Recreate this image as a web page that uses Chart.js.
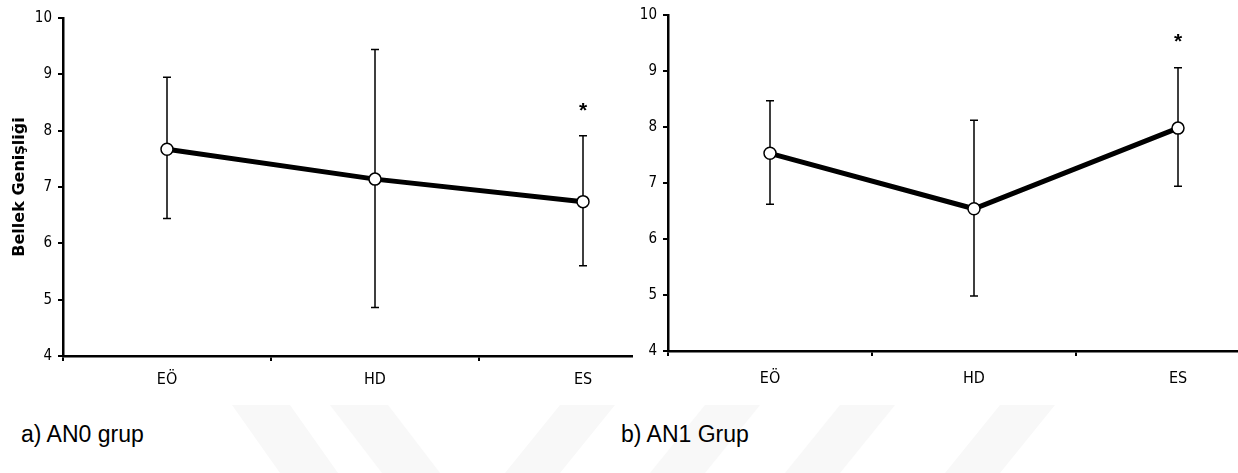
<!DOCTYPE html>
<html>
<head>
<meta charset="utf-8">
<script src="https://cdn.jsdelivr.net/npm/chart.js@4.4.1/dist/chart.umd.min.js"></script>
<style>
  html, body { margin: 0; padding: 0; background: #fff; overflow: hidden; }
  body { width: 1238px; height: 473px; position: relative; }
  canvas { position: absolute; top: 0; background: #fff; }
  #wm { position: absolute; left: 0; top: 0; }
  .cap { position: absolute; font-family: 'Liberation Sans', Arial, sans-serif; font-size: 23px; color: #000; top: 421px; }
</style>
</head>
<body>
<svg id="wm" width="1238" height="473">
  <g fill="#f8f8f8">
    <polygon points="232,405 290,405 338,473 280,473"/>
    <polygon points="330,405 388,405 440,473 382,473"/>
    <polygon points="560,405 615,405 560,473 505,473"/>
    <polygon points="705,405 760,405 705,473 650,473"/>
    <polygon points="840,405 895,405 840,473 785,473"/>
    <polygon points="1000,405 1055,405 1000,473 945,473"/>
  </g>
</svg>
<canvas id="chartA" width="700" height="400" style="left:0"></canvas>
<canvas id="chartB" width="660" height="400" style="left:633px"></canvas>
<div class="cap" style="left:21px">a) AN0 grup</div>
<div class="cap" style="left:621px">b) AN1 Grup</div>
<script>
// categories and values
const categories = ['EÖ', 'HD', 'ES'];

// a) AN0 grup
const an0Mean = [7.67, 7.14, 6.74];
const an0Upper = [8.95, 9.44, 7.91];
const an0Lower = [6.44, 4.86, 5.60];
const an0Marks = ['', '', '*'];

// b) AN1 Grup
const an1Mean = [7.53, 6.54, 7.98];
const an1Upper = [8.47, 8.12, 9.06];
const an1Lower = [6.62, 4.98, 6.94];
const an1Marks = ['', '', '*'];

const yMin = 4;
const yMax = 10;
const yTitle = 'Bellek Genişliği';

const tickFont = "'DejaVu Sans Condensed', 'DejaVu Sans', sans-serif";

// draws whiskers behind the line, and the significance marks above them
const errorBars = {
    id: 'errorBars',
    beforeDatasetsDraw(chart, args, opts) {
        const ctx = chart.ctx;
        const x = chart.scales.x;
        const y = chart.scales.y;
        ctx.save();
        ctx.strokeStyle = '#000';
        ctx.lineWidth = 1.5;
        opts.upper.forEach((hi, i) => {
            const px = x.getPixelForValue(i);
            const top = y.getPixelForValue(hi);
            const bot = y.getPixelForValue(opts.lower[i]);
            ctx.beginPath();
            ctx.moveTo(px, top);
            ctx.lineTo(px, bot);
            ctx.moveTo(px - 4, top);
            ctx.lineTo(px + 4, top);
            ctx.moveTo(px - 4, bot);
            ctx.lineTo(px + 4, bot);
            ctx.stroke();
            if (opts.marks[i]) {
                ctx.fillStyle = '#000';
                ctx.font = "bold 21px 'Liberation Sans', Arial, sans-serif";
                ctx.textAlign = 'center';
                ctx.textBaseline = 'middle';
                ctx.fillText(opts.marks[i], px, top - 25);
            }
        });
        ctx.restore();
    }
};

function makeChart(id, mean, upper, lower, marks, box) {
    return new Chart(document.getElementById(id), {
        type: 'line',
        data: {
            labels: categories,
            datasets: [{
                data: mean,
                borderColor: '#000',
                borderWidth: 5,
                pointRadius: 6,
                pointBorderWidth: 1.5,
                pointBackgroundColor: '#fff',
                pointBorderColor: '#000',
                tension: 0
            }]
        },
        options: {
            responsive: false,
            animation: false,
            layout: { padding: { top: box.top, right: box.right, left: 0, bottom: 0 } },
            plugins: {
                legend: { display: false },
                tooltip: { enabled: false },
                errorBars: { upper: upper, lower: lower, marks: marks }
            },
            scales: {
                x: {
                    offset: true,
                    grid: { display: true, drawOnChartArea: false, drawTicks: true, tickLength: 5, color: '#000', lineWidth: 2, offset: true },
                    border: { color: '#000', width: 2.5 },
                    ticks: { color: '#000', font: { family: tickFont, size: 16 }, padding: box.xPad },
                    afterFit: s => { s.height = box.xHeight; }
                },
                y: {
                    min: yMin,
                    max: yMax,
                    ticks: { stepSize: 1, color: '#000', font: { family: tickFont, size: 15 }, padding: 6 },
                    grid: { display: true, drawOnChartArea: false, drawTicks: true, tickLength: 5, color: '#000', lineWidth: 2 },
                    border: { color: '#000', width: 2.5 },
                    title: {
                        display: box.title,
                        text: yTitle,
                        color: '#000',
                        font: { family: "'DejaVu Sans', sans-serif", size: 16, weight: 'bold' },
                        padding: { top: 10, bottom: 0 }
                    },
                    afterFit: s => { s.width = box.yWidth; }
                }
            }
        },
        plugins: [errorBars]
    });
}

makeChart('chartA', an0Mean, an0Upper, an0Lower, an0Marks,
    { top: 18, right: 13, xHeight: 44, xPad: 9, yWidth: 63, title: true });
makeChart('chartB', an1Mean, an1Upper, an1Lower, an1Marks,
    { top: 8, right: 13, xHeight: 49, xPad: 13, yWidth: 35, title: false });
</script>
</body>
</html>
